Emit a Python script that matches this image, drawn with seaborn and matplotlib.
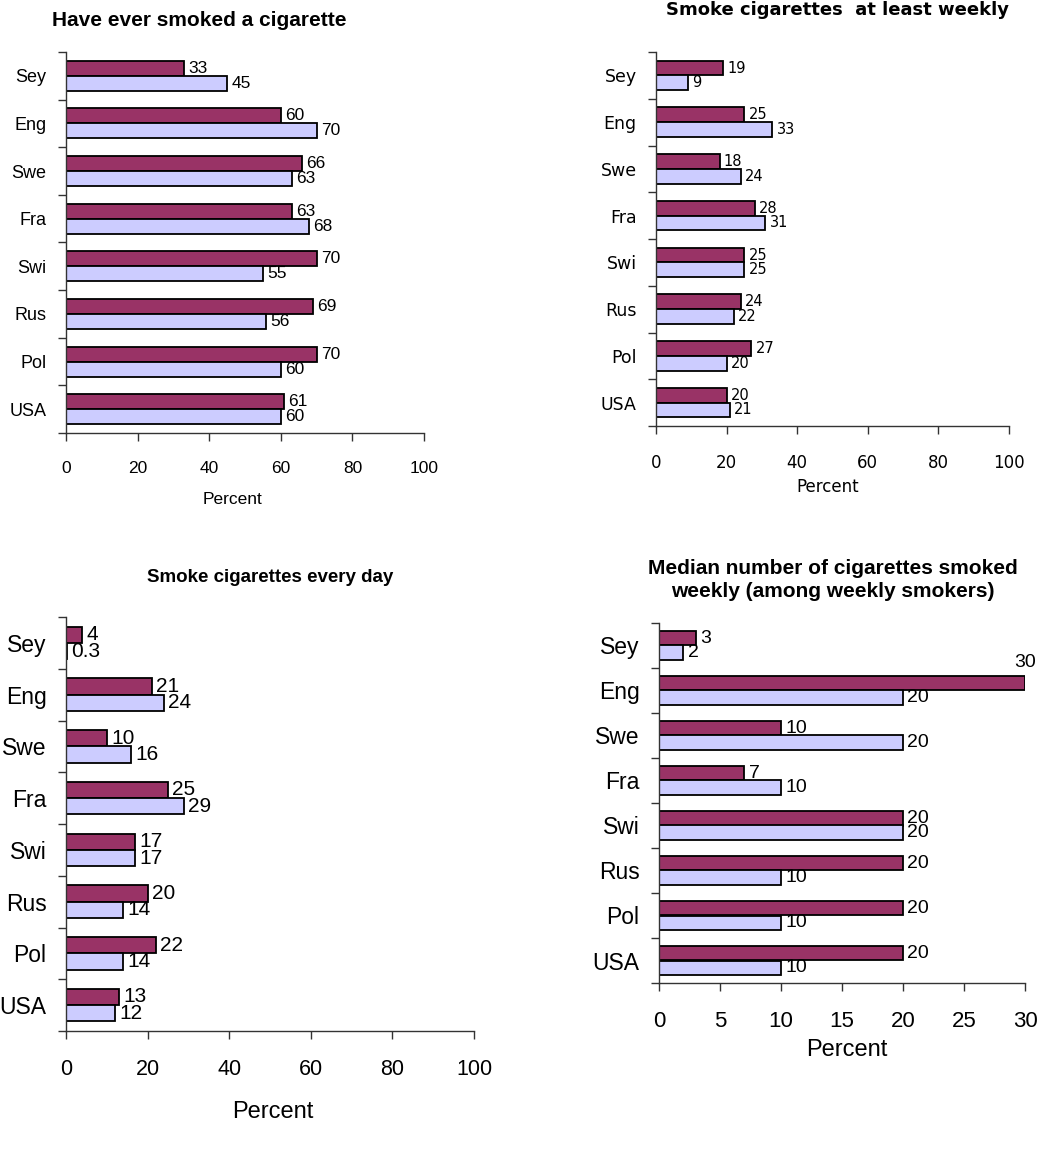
import numpy as np
import pandas as pd
import matplotlib.pyplot as plt
import seaborn as sns

# Country order, top to bottom
countries = ["Sey", "Eng", "Swe", "Fra", "Swi", "Rus", "Pol", "USA"]
groups = ["Group 1", "Group 2"]          # maroon bar, lavender bar
colors = ["#993366", "#CCCCFF"]

ever_1 = [33, 60, 66, 63, 70, 69, 70, 61]
ever_2 = [45, 70, 63, 68, 55, 56, 60, 60]
weekly_1 = [19, 25, 18, 28, 25, 24, 27, 20]
weekly_2 = [9, 33, 24, 31, 25, 22, 20, 21]
daily_1 = [4, 21, 10, 25, 17, 20, 22, 13]
daily_2 = [0.3, 24, 16, 29, 17, 14, 14, 12]
median_1 = [3, 30, 10, 7, 20, 20, 20, 20]
median_2 = [2, 20, 20, 10, 20, 10, 10, 10]

W, H = 1042, 1162

sns.set_style("ticks")
plt.rcParams["font.family"] = ["Liberation Sans", "DejaVu Sans"]
plt.rcParams["text.color"] = "black"
plt.rcParams["xtick.labelcolor"] = "black"
plt.rcParams["ytick.labelcolor"] = "black"

fig = plt.figure(figsize=(W / 100, H / 100), dpi=100)


def px(x, y):
    return x / W, 1 - y / H


def draw_panel(box, vals_1, vals_2, xmax, xstep, fs_tick, fs_cat, fs_val, family):
    x0, y0, x1, y1 = box
    ax = fig.add_axes([x0 / W, 1 - y1 / H, (x1 - x0) / W, (y1 - y0) / H])
    df = pd.DataFrame({
        "country": countries * 2,
        "group": [groups[0]] * len(countries) + [groups[1]] * len(countries),
        "value": vals_1 + vals_2,
    })
    sns.barplot(data=df, x="value", y="country", hue="group", hue_order=groups,
                palette=colors, saturation=1, orient="h", width=0.63,
                edgecolor="black", linewidth=1.3, legend=False, ax=ax)
    ax.set_xlim(0, xmax)
    ax.set_ylim(len(countries) - 0.5, -0.5)
    ax.set_xticks(np.arange(0, xmax + 0.1, xstep))
    ax.set_xticklabels([f"{v:g}" for v in np.arange(0, xmax + 0.1, xstep)],
                       fontsize=fs_tick, family=family, color="black")
    ax.set_yticks(range(len(countries)))
    ax.set_yticklabels(countries, fontsize=fs_cat, family=family, color="black")
    ax.set_yticks(np.arange(-0.5, len(countries), 1), minor=True)
    ax.tick_params(axis="y", which="major", length=0, pad=14)
    ax.tick_params(axis="y", which="minor", length=6, width=1, color="#333333")
    ax.tick_params(axis="x", length=6, width=1, color="#333333", pad=14)
    ax.set_xlabel("")
    ax.set_ylabel("")
    for s in ["top", "right"]:
        ax.spines[s].set_visible(False)
    for s in ["left", "bottom"]:
        ax.spines[s].set_color("#333333")
        ax.spines[s].set_linewidth(1)
    for c in ax.containers:
        texts = ax.bar_label(c, fmt="{:g}", padding=3, fontsize=fs_val,
                             family=family, color="black")
        for t, v in zip(texts, c.datavalues):
            if v >= xmax:
                t.set_ha("center")
                t.xyann = (0, 15)
    return ax


draw_panel((66, 52, 424, 433), ever_1, ever_2, 100, 20, 12.5, 13, 12.5, ["Liberation Sans"])
draw_panel((656, 52, 1009, 426), weekly_1, weekly_2, 100, 20, 12, 12.5, 10.5, ["DejaVu Sans"])
draw_panel((66, 617, 474, 1031), daily_1, daily_2, 100, 20, 15.5, 16.5, 15, ["Liberation Sans"])
draw_panel((659, 623, 1025, 983), median_1, median_2, 30, 5, 16, 16.5, 14, ["Liberation Sans"])

# Titles
fig.text(*px(199, 20), "Have ever smoked a cigarette", ha="center", va="center",
         fontsize=15, fontweight="bold")
fig.text(*px(838, 10), "Smoke cigarettes  at least weekly", ha="center", va="center",
         fontsize=13, fontweight="bold", family=["DejaVu Sans"])
fig.text(*px(270, 577), "Smoke cigarettes every day", ha="center", va="center",
         fontsize=13.5, fontweight="bold")
fig.text(*px(833, 580), "Median number of cigarettes smoked\nweekly (among weekly smokers)",
         ha="center", va="center", fontsize=15, fontweight="bold", linespacing=1.3)

# Axis titles
fig.text(*px(233, 500), "Percent", ha="center", va="center", fontsize=12.5)
fig.text(*px(828, 487), "Percent", ha="center", va="center", fontsize=12,
         family=["DejaVu Sans"])
fig.text(*px(273, 1112), "Percent", ha="center", va="center", fontsize=17)
fig.text(*px(847, 1050), "Percent", ha="center", va="center", fontsize=17)

fig.savefig("out.png", dpi=100)
